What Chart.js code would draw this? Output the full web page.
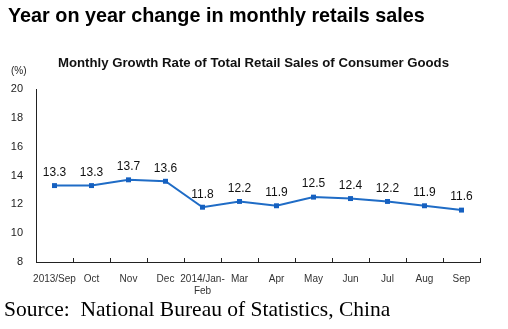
<!DOCTYPE html>
<html>
<head>
<meta charset="utf-8">
<script src="https://cdn.jsdelivr.net/npm/chart.js@4"></script>
<style>
  body { margin: 0; background: #fff; }
  #wrap { position: relative; width: 508px; height: 329px; overflow: hidden; }
  #wrap canvas { position: absolute; left: 0; top: 0; }
  .txt { position: absolute; white-space: nowrap; color: #000; }
  #title { left: 8px; top: 4px; font: bold 19.8px "Liberation Sans", Arial, sans-serif; }
  #subtitle { left: 58px; top: 55px; font: bold 13.2px "Liberation Sans", Arial, sans-serif; color: #111; }
  #unit { left: 11px; top: 65px; font: 10px "Liberation Sans", Arial, sans-serif; color: #222; }
  #source { left: 4px; top: 297px; font: 21.5px "Liberation Serif", "Times New Roman", serif; }
</style>
</head>
<body>
<div id="wrap">
  <canvas id="retailChart" width="508" height="329"></canvas>
  <div class="txt" id="title">Year on year change in monthly retails sales</div>
  <div class="txt" id="subtitle">Monthly Growth Rate of Total Retail Sales of Consumer Goods</div>
  <div class="txt" id="unit">(%)</div>
  <div class="txt" id="source">Source:&nbsp; National Bureau of Statistics, China</div>
</div>
<script>
  const months = ["2013/Sep", "Oct", "Nov", "Dec", ["2014/Jan-", "Feb"], "Mar", "Apr", "May", "Jun", "Jul", "Aug", "Sep"];
  const growthRate = [13.3, 13.3, 13.7, 13.6, 11.8, 12.2, 11.9, 12.5, 12.4, 12.2, 11.9, 11.6];
  const yTicks = [8, 10, 12, 14, 16, 18, 20];

  // value labels above each point
  const pointLabels = {
    id: "pointLabels",
    afterDatasetsDraw(chart) {
      const c = chart.ctx;
      const meta = chart.getDatasetMeta(0);
      c.save();
      c.font = "12px 'Liberation Sans', Arial, sans-serif";
      c.fillStyle = "#111";
      c.textAlign = "center";
      c.textBaseline = "middle";
      meta.data.forEach((pt, i) => {
        c.fillText(growthRate[i].toFixed(1), pt.x, pt.y - 13);
      });
      c.restore();
    }
  };

  // small inward tick marks on the category boundaries of the x axis
  const xTickMarks = {
    id: "xTickMarks",
    afterDraw(chart) {
      const c = chart.ctx;
      const x = chart.scales.x;
      const bottom = chart.chartArea.bottom;
      c.save();
      c.strokeStyle = "#222";
      c.lineWidth = 1;
      c.beginPath();
      for (let i = 0; i <= months.length; i++) {
        const px = Math.round(x.getPixelForValue(i - 0.5)) + 0.5;
        c.moveTo(px, bottom);
        c.lineTo(px, bottom - 4);
      }
      c.stroke();
      c.restore();
    }
  };

  new Chart(document.getElementById("retailChart").getContext("2d"), {
    type: "line",
    data: {
      labels: months,
      datasets: [{
        data: growthRate,
        borderColor: "#1f6cc6",
        backgroundColor: "#1560c0",
        borderWidth: 2,
        pointStyle: "rect",
        pointRadius: 3.5,
        pointBorderWidth: 0,
        tension: 0
      }]
    },
    options: {
      responsive: false,
      animation: false,
      layout: { padding: { left: 0, top: 89, right: 28, bottom: 0 } },
      plugins: {
        legend: { display: false },
        tooltip: { enabled: false }
      },
      scales: {
        x: {
          offset: true,
          grid: { display: false, drawTicks: false },
          border: { color: "#222", width: 1 },
          ticks: {
            color: "#333",
            font: { size: 10, family: "'Liberation Sans', Arial, sans-serif" },
            padding: 11,
            maxRotation: 0,
            autoSkip: false
          },
          afterFit(scale) { scale.height = 67; }
        },
        y: {
          min: 8,
          max: 20,
          grid: { display: false, drawTicks: false },
          border: { color: "#222", width: 1 },
          afterBuildTicks(scale) { scale.ticks = yTicks.map(v => ({ value: v })); },
          ticks: {
            color: "#222",
            font: { size: 11, family: "'Liberation Sans', Arial, sans-serif" },
            padding: 13
          },
          afterFit(scale) { scale.width = 36; }
        }
      }
    },
    plugins: [pointLabels, xTickMarks]
  });
</script>
</body>
</html>
